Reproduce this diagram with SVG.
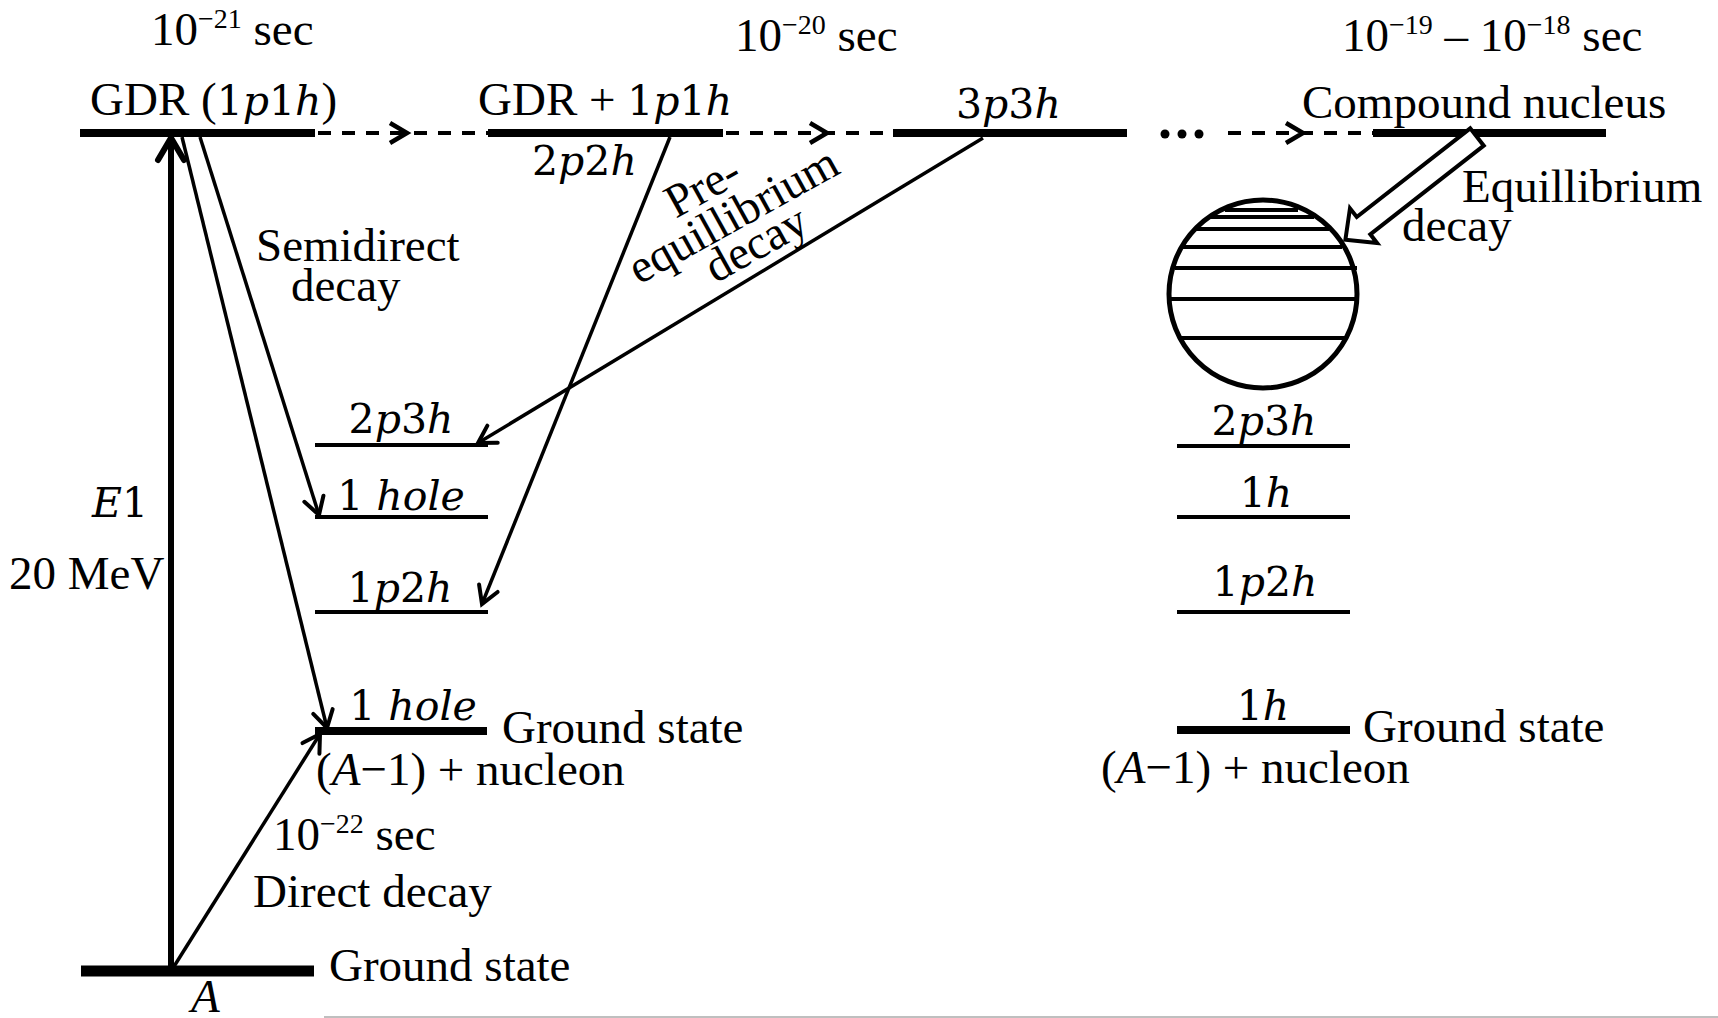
<svg xmlns="http://www.w3.org/2000/svg" width="1718" height="1018" viewBox="0 0 1718 1018">
<defs>
<style>
.t{font-family:"Liberation Serif","Times New Roman",serif;font-size:47px;fill:#000}
.m{font-family:"DejaVu Serif",serif;font-size:41px;fill:#000}
.i{font-style:italic}
.thick{stroke:#000;stroke-width:8;fill:none}
.thin{stroke:#000;stroke-width:4;fill:none}
.conn{stroke:#000;stroke-width:3.5;fill:none}
.dash{stroke:#000;stroke-width:4;stroke-dasharray:13 11;fill:none}
.chev{stroke:#000;stroke-width:4.5;fill:none;stroke-linejoin:miter}
</style>
<marker id="arr" markerUnits="userSpaceOnUse" markerWidth="40" markerHeight="40" viewBox="-30 -20 40 40" refX="0" refY="0" orient="auto" overflow="visible">
<path d="M-17,-10 L0,0 L-17,10" fill="none" stroke="#000" stroke-width="4" stroke-linecap="round"/>
</marker>
<marker id="arrBig" markerUnits="userSpaceOnUse" markerWidth="50" markerHeight="50" viewBox="-40 -25 50 50" refX="0" refY="0" orient="auto" overflow="visible">
<path d="M-22,-13 L0,0 L-22,13" fill="none" stroke="#000" stroke-width="6" stroke-linecap="round"/>
</marker>
</defs>
<rect width="1718" height="1018" fill="#fff"/>

<!-- top time labels -->
<text class="t" x="151" y="45">10<tspan font-size="28" dy="-17">−21</tspan><tspan dy="17"> sec</tspan></text>
<text class="t" x="735" y="51">10<tspan font-size="28" dy="-17">−20</tspan><tspan dy="17"> sec</tspan></text>
<text class="t" x="1342" y="51">10<tspan font-size="28" dy="-17">−19</tspan><tspan dy="17"> – 10</tspan><tspan font-size="28" dy="-17">−18</tspan><tspan dy="17"> sec</tspan></text>

<g id="node-gdr">
<line class="thick" x1="80" y1="133" x2="315" y2="133"/>
<text class="t" x="90" y="115">GDR (<tspan class="m">1<tspan class="i">p</tspan>1<tspan class="i">h</tspan></tspan>)</text>
</g>

<g id="node-gdr-1p1h">
<line class="thick" x1="488" y1="133" x2="723" y2="133"/>
<text class="t" x="478" y="115">GDR + <tspan class="m">1<tspan class="i">p</tspan>1<tspan class="i">h</tspan></tspan></text>
<text class="m" x="532" y="175">2<tspan class="i">p</tspan>2<tspan class="i">h</tspan></text>
</g>

<g id="node-3p3h">
<line class="thick" x1="893" y1="133" x2="1127" y2="133"/>
<text class="m" x="956" y="118">3<tspan class="i">p</tspan>3<tspan class="i">h</tspan></text>
</g>

<g id="node-compound">
<line class="thick" x1="1373" y1="133" x2="1606" y2="133"/>
<text class="t" x="1302" y="118" font-size="45">Compound nucleus</text>
</g>

<g id="node-circle">
<circle cx="1263" cy="294" r="94" fill="#fff" stroke="#000" stroke-width="5"/>
<g class="thin">
<line x1="1225" y1="210" x2="1298" y2="210"/>
<line x1="1208" y1="217" x2="1314" y2="217"/>
<line x1="1194" y1="229" x2="1329" y2="229"/>
<line x1="1180" y1="247" x2="1342" y2="247"/>
<line x1="1175" y1="268" x2="1357" y2="268"/>
<line x1="1170" y1="299" x2="1357" y2="299"/>
<line x1="1180" y1="338" x2="1347" y2="338"/>
</g>
</g>

<g id="node-ground-A">
<line x1="81" y1="971" x2="314" y2="971" stroke="#000" stroke-width="11"/>
<text class="t" x="329" y="981">Ground state</text>
<text class="t i" x="191" y="1012">A</text>
</g>

<!-- left column levels -->
<g id="node-left-2p3h">
<line class="thin" x1="315" y1="445" x2="488" y2="445"/>
<text class="m" x="401" y="433" text-anchor="middle">2<tspan class="i">p</tspan>3<tspan class="i">h</tspan></text>
</g>
<g id="node-left-1hole">
<line class="thin" x1="315" y1="517" x2="488" y2="517"/>
<text class="m" x="401" y="510" text-anchor="middle">1 <tspan class="i">hole</tspan></text>
</g>
<g id="node-left-1p2h">
<line class="thin" x1="315" y1="612" x2="488" y2="612"/>
<text class="m" x="400" y="602" text-anchor="middle">1<tspan class="i">p</tspan>2<tspan class="i">h</tspan></text>
</g>
<g id="node-left-ground">
<line class="thick" x1="315" y1="731" x2="487" y2="731"/>
<text class="m" x="413" y="720" text-anchor="middle">1 <tspan class="i">hole</tspan></text>
<text class="t" x="502" y="743">Ground state</text>
<text class="t" x="316" y="785" font-size="48">(<tspan class="i">A</tspan>−1) + nucleon</text>
</g>

<!-- right column levels -->
<g id="node-right-2p3h">
<line class="thin" x1="1177" y1="446" x2="1350" y2="446"/>
<text class="m" x="1264" y="435" text-anchor="middle">2<tspan class="i">p</tspan>3<tspan class="i">h</tspan></text>
</g>
<g id="node-right-1h">
<line class="thin" x1="1177" y1="517" x2="1350" y2="517"/>
<text class="m" x="1266" y="507" text-anchor="middle">1<tspan class="i">h</tspan></text>
</g>
<g id="node-right-1p2h">
<line class="thin" x1="1177" y1="612" x2="1350" y2="612"/>
<text class="m" x="1265" y="596" text-anchor="middle">1<tspan class="i">p</tspan>2<tspan class="i">h</tspan></text>
</g>
<g id="node-right-ground">
<line class="thick" x1="1177" y1="730" x2="1350" y2="730"/>
<text class="m" x="1263" y="720" text-anchor="middle">1<tspan class="i">h</tspan></text>
<text class="t" x="1363" y="742">Ground state</text>
<text class="t" x="1101" y="783" font-size="48">(<tspan class="i">A</tspan>−1) + nucleon</text>
</g>

<g id="connectors">
<!-- E1 excitation -->
<line x1="171" y1="966" x2="171" y2="138" stroke="#000" stroke-width="6" marker-end="url(#arrBig)"/>
<!-- direct decay -->
<line class="conn" x1="173" y1="968" x2="320" y2="734" marker-end="url(#arr)"/>
<!-- semidirect decays -->
<line class="conn" x1="182" y1="137" x2="327" y2="728" marker-end="url(#arr)"/>
<line class="conn" x1="200" y1="137" x2="319" y2="515" marker-end="url(#arr)"/>
<!-- pre-equilibrium decays -->
<line class="conn" x1="670" y1="137" x2="482" y2="604" marker-end="url(#arr)"/>
<line class="conn" x1="983" y1="138" x2="478" y2="443" marker-end="url(#arr)"/>
<!-- dashed time-evolution arrows -->
<line class="dash" x1="318" y1="133" x2="488" y2="133"/>
<path class="chev" d="M390,123 L407,133 L390,143"/>
<line class="dash" x1="726" y1="133" x2="893" y2="133"/>
<path class="chev" d="M810,123 L827,133 L810,143"/>
<circle cx="1165" cy="134" r="4.5" fill="#000"/>
<circle cx="1182" cy="134" r="4.5" fill="#000"/>
<circle cx="1199" cy="134" r="4.5" fill="#000"/>
<line class="dash" x1="1228" y1="133" x2="1373" y2="133"/>
<path class="chev" d="M1286,123 L1303,133 L1286,143"/>
<!-- equilibrium decay block arrow -->
<polygon transform="translate(1477,137) rotate(142)" points="0,-11 144,-11 144,-22 167,0 144,22 144,11 0,11" fill="#fff" stroke="#000" stroke-width="4" stroke-linejoin="miter"/>
</g>

<!-- process labels -->
<text class="m" x="92" y="517"><tspan class="i">E</tspan>1</text>
<text class="t" x="9" y="589">20 MeV</text>
<text class="t" x="256" y="261">Semidirect</text>
<text class="t" x="291" y="301">decay</text>
<g transform="rotate(-29)">
<text class="t" x="524" y="519" text-anchor="middle">Pre-</text>
<text class="t" x="537" y="559" text-anchor="middle">equillibrium</text>
<text class="t" x="543" y="595" text-anchor="middle">decay</text>
</g>
<text class="t" x="1462" y="202">Equillibrium</text>
<text class="t" x="1402" y="241">decay</text>
<text class="t" x="273" y="850">10<tspan font-size="28" dy="-17">−22</tspan><tspan dy="17"> sec</tspan></text>
<text class="t" x="253" y="907">Direct decay</text>

<line x1="324" y1="1017" x2="1718" y2="1017" stroke="#aaa" stroke-width="1.5"/>
</svg>
